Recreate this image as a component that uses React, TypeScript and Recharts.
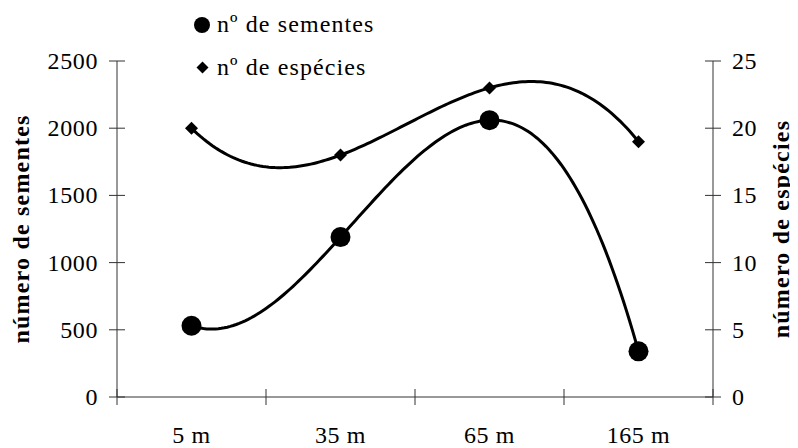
import React from 'react';
import { ComposedChart, Line, XAxis, YAxis, Legend, Label } from 'recharts';

const categories = ['5 m', '35 m', '65 m', '165 m'];
const seeds = [530, 1190, 2060, 340];
const species = [20, 18, 23, 19];
const seedTicks = [0, 500, 1000, 1500, 2000, 2500];
const speciesTicks = [0, 5, 10, 15, 20, 25];
const seedName = 'nº de sementes';
const speciesName = 'nº de espécies';
const leftTitle = 'número de sementes';
const rightTitle = 'número de espécies';
const seriesOrder = ['seeds', 'species'];

const data = categories.map((c, i) => ({
  cat: c,
  pos: i + 0.5,
  seeds: seeds[i],
  species: species[i],
}));
const xTicks = Array.from({ length: categories.length * 2 + 1 }, (_, i) => i / 2);

const FONT = '"Liberation Serif", "Times New Roman", Times, serif';
const AXIS = '#333333';
const TICK_SIZE = 8;
const TICK_GAP = 11;

const textStyle: React.CSSProperties = {
  fontFamily: FONT,
  fontSize: 24,
  letterSpacing: 0.6,
  fill: '#000',
};

// Interpolating polynomial through all points (parameterised by point index)
function polyCurve(context: any) {
  let px: number[] = [];
  let py: number[] = [];
  const evalAt = (arr: number[], s: number) => {
    const n = arr.length;
    let sum = 0;
    for (let i = 0; i < n; i++) {
      let w = 1;
      for (let j = 0; j < n; j++) {
        if (j !== i) w *= (s - j) / (i - j);
      }
      sum += w * arr[i];
    }
    return sum;
  };
  return {
    areaStart() {},
    areaEnd() {},
    lineStart() {
      px = [];
      py = [];
    },
    point(x: number, y: number) {
      px.push(+x);
      py.push(+y);
    },
    lineEnd() {
      const n = px.length;
      if (!n) return;
      context.moveTo(px[0], py[0]);
      const steps = 50;
      for (let k = 1; k <= (n - 1) * steps; k++) {
        const s = k / steps;
        context.lineTo(evalAt(px, s), evalAt(py, s));
      }
    },
  };
}

const makeYTick = (side: 'left' | 'right') => (props: any) => {
  const { x, y, payload } = props;
  const axisX = side === 'left' ? x + TICK_SIZE + TICK_GAP : x - TICK_SIZE - TICK_GAP;
  return (
    <g>
      <line x1={axisX - 8} x2={axisX + 8} y1={y} y2={y} stroke={AXIS} strokeWidth={1} />
      <text
        x={x}
        y={y}
        dy={8}
        textAnchor={side === 'left' ? 'end' : 'start'}
        style={textStyle}
      >
        {payload.value}
      </text>
    </g>
  );
};

const XTick = (props: any) => {
  const { x, y, payload } = props;
  const axisY = y - TICK_SIZE;
  const v = payload.value;
  if (Number.isInteger(v)) {
    return <line x1={x} x2={x} y1={axisY - 8} y2={axisY + 8} stroke={AXIS} strokeWidth={1} />;
  }
  return (
    <text x={x} y={axisY + 46} textAnchor="middle" style={textStyle}>
      {categories[Math.floor(v)]}
    </text>
  );
};

const Diamond = (props: any) => {
  const { cx, cy, index } = props;
  if (cx == null || cy == null) return <g key={`d-${index}`} />;
  const h = 6.5;
  return (
    <polygon
      key={`d-${index}`}
      points={`${cx},${cy - h} ${cx + h},${cy} ${cx},${cy + h} ${cx - h},${cy}`}
      fill="#000"
    />
  );
};

const Circle = (props: any) => {
  const { cx, cy, index } = props;
  if (cx == null || cy == null) return <g key={`c-${index}`} />;
  return <circle key={`c-${index}`} cx={cx} cy={cy} r={10} fill="#000" />;
};

const renderLegend = (props: any) => {
  const payload = [...(props.payload || [])].sort(
    (a: any, b: any) => seriesOrder.indexOf(a.dataKey) - seriesOrder.indexOf(b.dataKey)
  );
  return (
    <svg width={220} height={90}>
      {payload.map((e: any, i: number) => {
        const cy = i === 0 ? 17 : 59.5;
        const isSeeds = e.dataKey === 'seeds';
        return (
          <g key={i}>
            {isSeeds ? (
              <circle cx={14} cy={cy} r={8} fill="#000" />
            ) : (
              <polygon
                points={`14.5,${cy - 6} ${14.5 + 6},${cy} 14.5,${cy + 6} ${14.5 - 6},${cy}`}
                fill="#000"
              />
            )}
            <text x={29} y={cy + 7} style={{ ...textStyle, letterSpacing: 1.1 }}>
              {e.value}
            </text>
          </g>
        );
      })}
    </svg>
  );
};

const titleStyle: React.CSSProperties = {
  textAnchor: 'middle',
  fontFamily: FONT,
  fontSize: 24,
  fontWeight: 'bold',
  letterSpacing: 1.2,
  fill: '#000',
};

export default function App() {
  return (
    <div style={{ width: 790, height: 440 }}>
      <ComposedChart
        width={790}
        height={440}
        data={data}
        margin={{ top: 53, right: 0, bottom: 0, left: 0 }}
      >
        <XAxis
          type="number"
          dataKey="pos"
          domain={[0, categories.length]}
          ticks={xTicks}
          interval={0}
          allowDecimals
          tickLine={false}
          tickSize={TICK_SIZE}
          tickMargin={0}
          height={51}
          axisLine={{ stroke: AXIS }}
          tick={XTick}
        />
        <YAxis
          yAxisId="left"
          orientation="left"
          domain={[0, 2500]}
          ticks={seedTicks}
          interval={0}
          width={109}
          tickLine={false}
          tickSize={TICK_SIZE}
          tickMargin={TICK_GAP}
          axisLine={{ stroke: AXIS }}
          tick={makeYTick('left')}
        >
          <Label value={leftTitle} angle={-90} position="insideLeft" offset={12} style={titleStyle} />
        </YAxis>
        <YAxis
          yAxisId="right"
          orientation="right"
          domain={[0, 25]}
          ticks={speciesTicks}
          interval={0}
          width={85}
          tickLine={false}
          tickSize={TICK_SIZE}
          tickMargin={TICK_GAP}
          axisLine={{ stroke: AXIS }}
          tick={makeYTick('right')}
        >
          <Label value={rightTitle} angle={-90} position="insideRight" offset={18} style={titleStyle} />
        </YAxis>
        <Legend
          layout="vertical"
          verticalAlign="middle"
          align="center"
          itemSorter={null as any}
          content={renderLegend}
          wrapperStyle={{ left: 180, top: 0, width: 220, height: 90 }}
        />
        <Line
          yAxisId="left"
          dataKey="seeds"
          name={seedName}
          type={polyCurve as any}
          stroke="#000"
          strokeWidth={3}
          dot={Circle}
          activeDot={false}
          isAnimationActive={false}
        />
        <Line
          yAxisId="right"
          dataKey="species"
          name={speciesName}
          type={polyCurve as any}
          stroke="#000"
          strokeWidth={3}
          dot={Diamond}
          activeDot={false}
          isAnimationActive={false}
        />
      </ComposedChart>
    </div>
  );
}
